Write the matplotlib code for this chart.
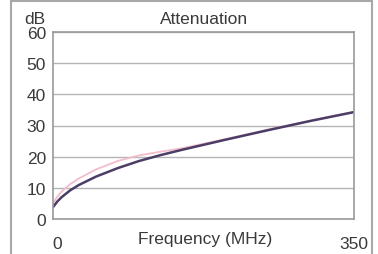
import matplotlib
matplotlib.use("Agg")
import matplotlib.pyplot as plt
from matplotlib.patches import Rectangle
from matplotlib.transforms import ScaledTranslation

# Data
freq_mhz = [0, 5, 10, 20, 30, 50, 75, 100, 125, 150, 200, 250, 300, 350]
atten_dark = [3.8, 5.6, 7.0, 9.2, 10.9, 13.6, 16.3, 18.6, 20.5, 22.2, 25.4, 28.5, 31.5, 34.3]
atten_pink = [5.0, 7.2, 8.8, 11.2, 13.0, 15.9, 18.6, 20.4, 21.6, 22.7, 25.6, 28.7, 31.6, 34.4]
y_ticks = [0, 10, 20, 30, 40, 50, 60]
x_ticks = [0, 350]

plt.rcParams['font.family'] = ['Liberation Sans', 'DejaVu Sans']
W, H = 378, 255
FS = 12.5
TXT = '#3a3a3a'
fig = plt.figure(figsize=(W / 100, H / 100), dpi=100)
fig.patch.set_facecolor('white')

# outer frame
fig.patches.append(Rectangle((11 / W, -0.05), (372 - 11) / W, (253) / H + 0.05,
                             transform=fig.transFigure, fill=False,
                             edgecolor='#a8a8a8', linewidth=1.5))

ax = fig.add_axes([53 / W, (H - 220) / H, (354 - 53) / W, (220 - 33) / H])
ax.set_xlim(0, 350)
ax.set_ylim(0, 60)
ax.set_yticks(y_ticks)
ax.set_xticks(x_ticks)
ax.tick_params(length=0, labelsize=FS, colors=TXT)
ax.tick_params(axis='y', pad=5)
ax.tick_params(axis='x', pad=12)
for s in ax.spines.values():
    s.set_color('#9a9a9a')
    s.set_linewidth(1.2)
ax.grid(axis='y', color='#b4b4b4', linewidth=1.0)
ax.set_axisbelow(True)

# nudge the "0" x label slightly right as in the reference
lab0 = ax.get_xticklabels()[0]
lab0.set_transform(lab0.get_transform() + ScaledTranslation(4 / 100, 0, fig.dpi_scale_trans))

ax.plot(freq_mhz, atten_pink, color='#f2bccb', linewidth=1.3)
ax.plot(freq_mhz, atten_dark, color='#4b3d66', linewidth=1.8)

fig.text(35 / W, 1 - 20 / H, 'dB', ha='center', va='center', fontsize=FS, color=TXT)
fig.text(204 / W, 1 - 19 / H, 'Attenuation', ha='center', va='center', fontsize=FS, color=TXT)
fig.text(205 / W, 1 - 240 / H, 'Frequency (MHz)', ha='center', va='center', fontsize=FS, color=TXT)

fig.savefig('out.png', dpi=100)
